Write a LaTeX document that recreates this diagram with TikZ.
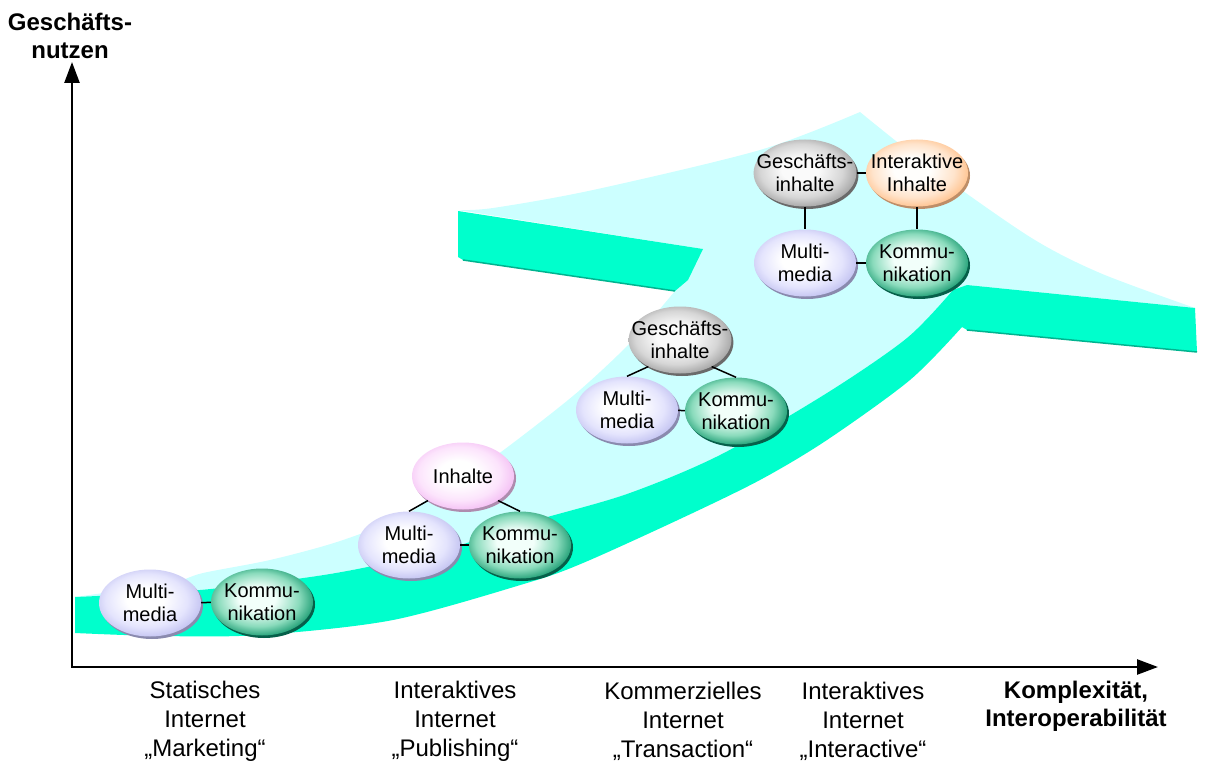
\documentclass[tikz,border=0pt]{standalone}
\usepackage{fontspec}
\setmainfont{Liberation Sans}
\usetikzlibrary{shapes.geometric,shadows,arrows.meta}

% surfaces of the 3D arrow
\definecolor{topface}{HTML}{CCFFFF}
\definecolor{frontface}{HTML}{00FFCC}
\definecolor{frontrim}{HTML}{00B38F}
% bubble colours: centre / middle / edge / shadow
\definecolor{mmin}{HTML}{FFFFFF}
\definecolor{mmmid}{HTML}{E4E4FD}
\definecolor{mmcol}{HTML}{C0C0F0}
\definecolor{mmshd}{HTML}{8A8AAE}
\definecolor{komin}{HTML}{F2FFFA}
\definecolor{kommid}{HTML}{8ADBBC}
\definecolor{komcol}{HTML}{16996F}
\definecolor{komshd}{HTML}{06604A}
\definecolor{giin}{HTML}{FAFAFA}
\definecolor{gimid}{HTML}{D6D6D6}
\definecolor{gicol}{HTML}{A0A0A0}
\definecolor{gishd}{HTML}{6A6A6A}
\definecolor{inhin}{HTML}{FFFFFF}
\definecolor{inhmid}{HTML}{FCE4FC}
\definecolor{inhcol}{HTML}{F3BCF3}
\definecolor{inhshd}{HTML}{AE8CAE}
\definecolor{iiin}{HTML}{FFFEFC}
\definecolor{iimid}{HTML}{FFE4CC}
\definecolor{iicol}{HTML}{FFBF88}
\definecolor{iishd}{HTML}{BE8E68}

% radial fill with the highlight a little up and to the left
\newcommand\bubbleshading[4]{%
  \pgfdeclareradialshading{#1}{\pgfpoint{-3bp}{3bp}}{%
    color(0bp)=(#2); color(9bp)=(#2); color(20bp)=(#3); color(28bp)=(#4); color(50bp)=(#4)}}
\bubbleshading{mmshade}{mmin}{mmmid}{mmcol}
\bubbleshading{komshade}{komin}{kommid}{komcol}
\bubbleshading{gishade}{giin}{gimid}{gicol}
\bubbleshading{inhshade}{inhin}{inhmid}{inhcol}
\bubbleshading{iishade}{iiin}{iimid}{iicol}

\tikzset{
  topsurf/.style={fill=topface},
  frontsurf/.style={fill=frontface},
  rimline/.style={draw=frontrim, line width=1.5pt},
  bubble/.style={ellipse, minimum width=102pt, minimum height=67pt,
    inner xsep=-12pt, inner ysep=0pt, align=center,
    font=\fontsize{20}{22.5}\selectfont,
    drop shadow={shadow xshift=2pt, shadow yshift=-2.5pt, fill=#1, opacity=1}},
  mmbubble/.style={bubble=mmshd, shade, shading=mmshade},
  kombubble/.style={bubble=komshd, shade, shading=komshade},
  gibubble/.style={bubble=gishd, shade, shading=gishade},
  inhbubble/.style={bubble=inhshd, shade, shading=inhshade},
  iibubble/.style={bubble=iishd, shade, shading=iishade},
  link/.style={draw=black, line width=1.5pt},
  axis/.style={draw=black, line width=2.5pt,
    {Triangle[length=21pt,width=15pt]}-{Triangle[length=21pt,width=15pt]}},
  axistitle/.style={align=center, font=\bfseries\fontsize{24}{28}\selectfont},
  stagelabel/.style={align=center, font=\fontsize{24}{29}\selectfont},
}

\begin{document}
\begin{tikzpicture}[x=1pt, y=-1pt]
\useasboundingbox (0,0) rectangle (1205,765);

% upper surface of the rising arrow
\path[topsurf]
  plot[smooth] coordinates {(75,597) (200,590) (330,574) (443,550) (530,522)
        (627,494) (720,455) (827,393) (907,338) (953,290)}
  -- (967,285) -- (1195,308)
  -- plot[smooth] coordinates {(1195,308) (1100,273) (1030,237) (927,165) (860,112)}
  -- plot[smooth] coordinates {(860,112) (760,150) (593,190) (493,208) (458,210)}
  -- (703,249) -- (675,291)
  -- plot[smooth] coordinates {(675,291) (630,343) (580,390) (530,430) (480,467)
        (430,497) (403,517) (337,542) (270,560) (203,573) (170,583) (75,597)}
  -- cycle;

% front face: curved band running into the right barb
\path[frontsurf]
  plot[smooth] coordinates {(75,597) (200,590) (330,574) (443,550) (530,522)
        (627,494) (720,455) (827,393) (907,338) (953,290)}
  -- (967,285) -- (1195,308) -- (1197,352) -- (967,330) -- (962,327)
  -- plot[smooth] coordinates {(962,327) (910,380) (827,440) (760,480) (680,519)
        (583,563) (527,583) (393,620) (260,635) (160,636) (75,633)}
  -- cycle;
\path[rimline] (967,330) -- (1197,352);

% front face of the left barb
\path[frontsurf] (458,211) -- (703,249) -- (688,280) -- (675,291)
  -- (463,260) -- (458,257) -- cycle;
\path[rimline] (463,260) -- (675,291);

% stage 1
\node[mmbubble]  (mmA)  at (150,603) {Multi-\\media};
\node[kombubble] (komA) at (262,602) {Kommu-\\nikation};
\path[link] (mmA) -- (komA);

% stage 2
\node[inhbubble] (inhB) at (463,476) {Inhalte};
\node[mmbubble]  (mmB)  at (409,545) {Multi-\\media};
\node[kombubble] (komB) at (520,545) {Kommu-\\nikation};
\path[link] (mmB) -- (komB);
\path[link] (inhB.215) -- (mmB.north);
\path[link] (inhB.325) -- (komB.north);

% stage 3
\node[gibubble]  (giC)  at (680,340) {Geschäfts-\\inhalte};
\node[mmbubble]  (mmC)  at (627,410) {Multi-\\media};
\node[kombubble] (komC) at (736,411) {Kommu-\\nikation};
\path[link] (mmC) -- (komC);
\path[link] (giC.220) -- (mmC.north);
\path[link] (giC.320) -- (komC.north);

% stage 4
\node[gibubble]  (giD)  at (805,173) {Geschäfts-\\inhalte};
\node[iibubble]  (iiD)  at (917,173) {Interaktive\\Inhalte};
\node[mmbubble]  (mmD)  at (805,263) {Multi-\\media};
\node[kombubble] (komD) at (917,263) {Kommu-\\nikation};
\path[link] (giD) -- (iiD);
\path[link] (mmD) -- (komD);
\path[link] (giD) -- (mmD);
\path[link] (iiD) -- (komD);

% axes
\coordinate (ytip) at (72,62);
\coordinate (origin) at (72,667);
\coordinate (xtip) at (1158,667);
\path[axis] (ytip) -- (origin) -- (xtip);

% axis titles and stage labels
\node[axistitle] (ytitle) at (70,36) {Geschäfts-\\nutzen};
\node[axistitle] (xtitle) at (1076,706) {Komplexität,\\Interoperabilität};
\node[stagelabel] (stA) at (205,721) {Statisches\\Internet\\„Marketing“};
\node[stagelabel] (stB) at (455,721) {Interaktives\\Internet\\„Publishing“};
\node[stagelabel] (stC) at (683,721) {Kommerzielles\\Internet\\„Transaction“};
\node[stagelabel] (stD) at (863,721) {Interaktives\\Internet\\„Interactive“};
\end{tikzpicture}
\end{document}
